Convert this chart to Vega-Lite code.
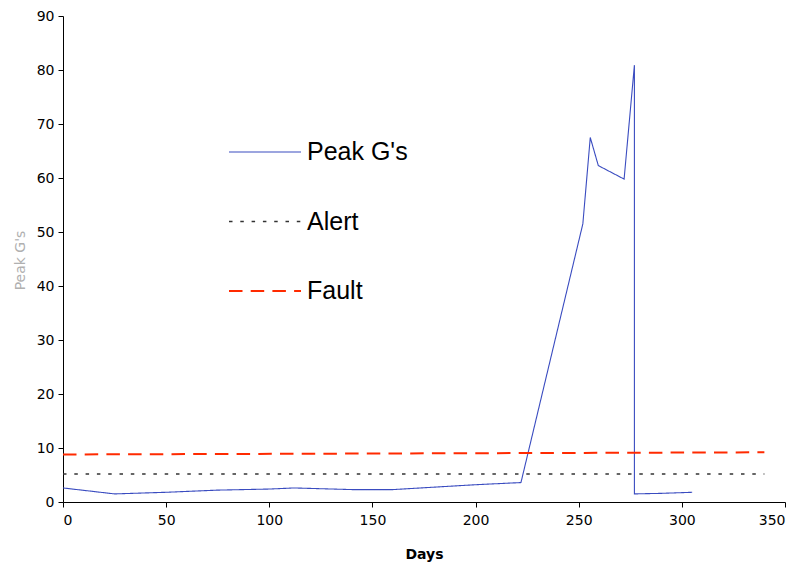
{
  "$schema": "https://vega.github.io/schema/vega-lite/v6.json",
  "autosize": "none",
  "padding": {"left": 63, "top": 16, "right": 18, "bottom": 65},
  "width": 722,
  "height": 486,
  "background": "white",
  "config": {"view": {"stroke": null}, "font": "DejaVu Sans"},
  "data": {"values": [
    {"series": "Peak G's", "day": 0, "g": 2.6, "o": 1},
    {"series": "Peak G's", "day": 25, "g": 1.5, "o": 2},
    {"series": "Peak G's", "day": 50, "g": 1.8, "o": 3},
    {"series": "Peak G's", "day": 75, "g": 2.2, "o": 4},
    {"series": "Peak G's", "day": 100, "g": 2.4, "o": 5},
    {"series": "Peak G's", "day": 112, "g": 2.6, "o": 6},
    {"series": "Peak G's", "day": 140, "g": 2.3, "o": 7},
    {"series": "Peak G's", "day": 160, "g": 2.3, "o": 8},
    {"series": "Peak G's", "day": 200, "g": 3.2, "o": 9},
    {"series": "Peak G's", "day": 222, "g": 3.6, "o": 10},
    {"series": "Peak G's", "day": 252, "g": 51.5, "o": 11},
    {"series": "Peak G's", "day": 255.6, "g": 67.5, "o": 12},
    {"series": "Peak G's", "day": 259.5, "g": 62.3, "o": 13},
    {"series": "Peak G's", "day": 272, "g": 59.8, "o": 14},
    {"series": "Peak G's", "day": 277, "g": 80.9, "o": 15},
    {"series": "Peak G's", "day": 277, "g": 1.5, "o": 16},
    {"series": "Peak G's", "day": 290, "g": 1.6, "o": 17},
    {"series": "Peak G's", "day": 305, "g": 1.8, "o": 18},
    {"series": "Alert", "day": 0, "g": 5.2, "o": 1},
    {"series": "Alert", "day": 340, "g": 5.2, "o": 2},
    {"series": "Fault", "day": 0, "g": 8.8, "o": 1},
    {"series": "Fault", "day": 340, "g": 9.2, "o": 2}
  ]},
  "mark": {"type": "line", "clip": true},
  "encoding": {
    "x": {"field": "day", "type": "quantitative",
      "scale": {"domain": [0, 350], "nice": false},
      "axis": {"values": [0,50,100,150,200,250,300,350], "grid": false, "title": "Days",
        "domainColor": "black", "tickColor": "black", "tickSize": 5,
        "labelFontSize": 14, "labelColor": "black", "labelPadding": 6,
        "titleFontSize": 14, "titleFontWeight": "bold", "titleColor": "black", "titlePadding": 20}},
    "y": {"field": "g", "type": "quantitative",
      "scale": {"domain": [0, 90], "nice": false},
      "axis": {"values": [0,10,20,30,40,50,60,70,80,90], "grid": false, "title": "Peak G's",
        "domainColor": "black", "tickColor": "black", "tickSize": 5,
        "labelFontSize": 14, "labelColor": "black", "labelPadding": 4,
        "titleFontSize": 14, "titleFontWeight": "normal", "titleColor": "#b0b0b0",
        "titleX": -43, "titleY": 244, "titleAlign": "center", "titleBaseline": "middle", "titleAngle": -90}},
    "order": {"field": "o", "type": "quantitative"},
    "color": {"field": "series", "type": "nominal",
      "scale": {"domain": ["Peak G's", "Alert", "Fault"], "range": ["#3a4cc0", "#333333", "#ff2a00"]},
      "legend": {"orient": "none", "legendX": 165, "legendY": 99, "title": null,
        "symbolType": "stroke", "symbolSize": 5184, "symbolStrokeWidth": 1.8,
        "labelFontSize": 25, "labelColor": "black", "labelFont": "Liberation Sans",
        "rowPadding": 19.5, "labelOffset": 5}},
    "strokeDash": {"field": "series", "type": "nominal",
      "scale": {"domain": ["Peak G's", "Alert", "Fault"], "range": [[1, 0], [3.5, 7.8], [13.5, 8.2]]}},
    "strokeWidth": {"field": "series", "type": "nominal",
      "scale": {"domain": ["Peak G's", "Alert", "Fault"], "range": [1.1, 2, 2.5]}, "legend": null}
  }
}
